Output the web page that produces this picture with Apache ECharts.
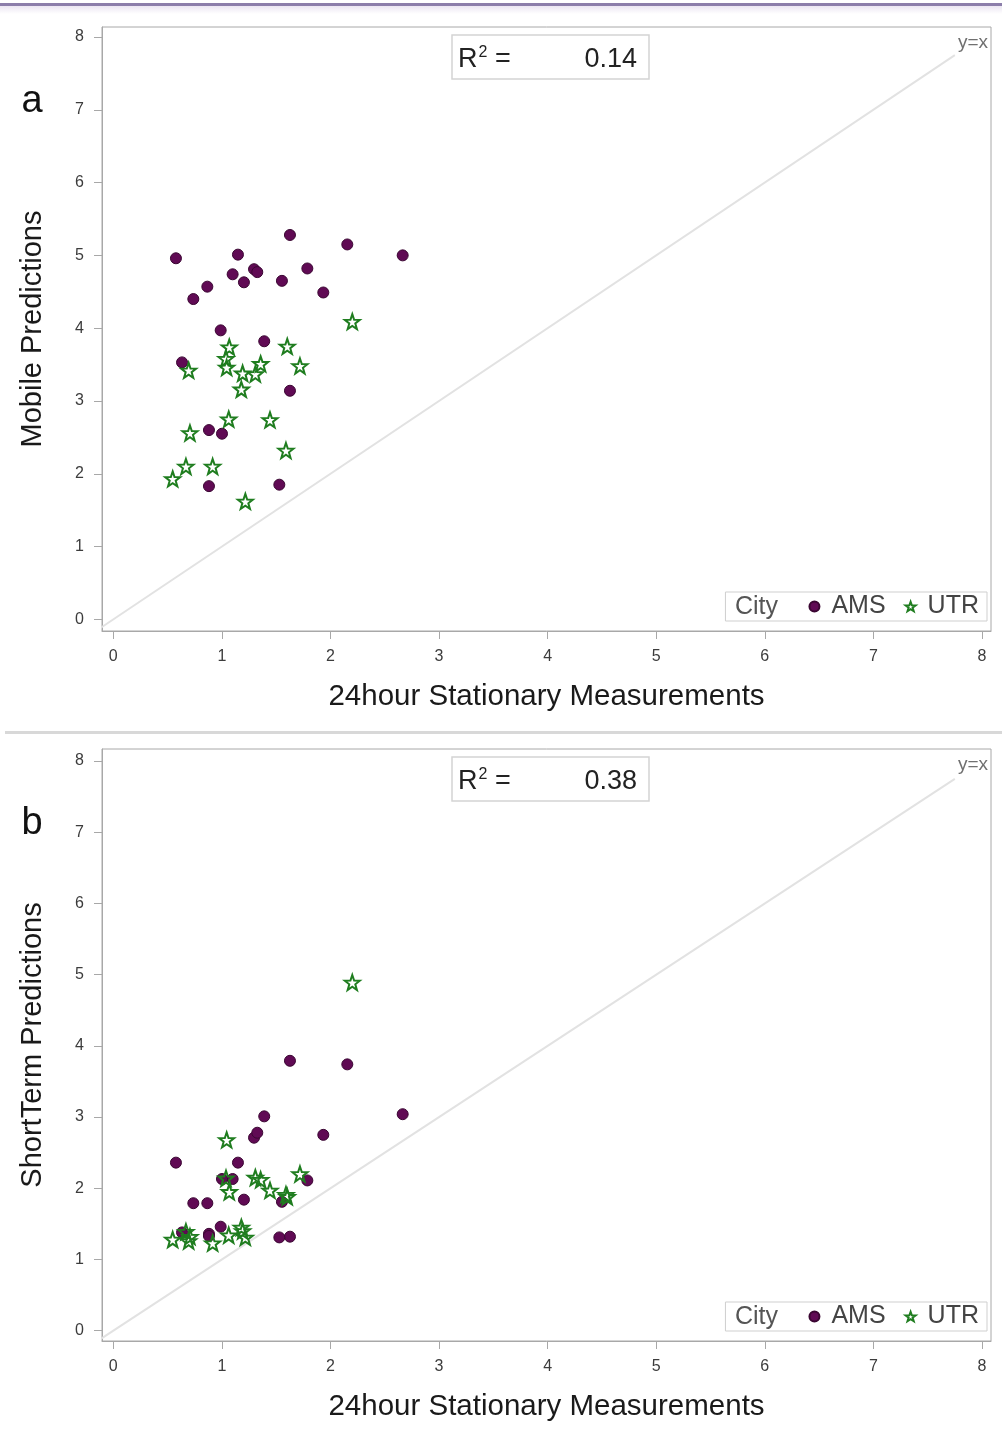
<!DOCTYPE html>
<html><head><meta charset="utf-8">
<script src="https://cdn.jsdelivr.net/npm/echarts@6/dist/echarts.min.js"></script>
<style>html,body{margin:0;padding:0;background:#fff}#c{width:1002px;height:1434px}</style>
</head><body><div id="c"></div>
<script>
// 24hour stationary measurements (x), mobile predictions (panel a), short-term predictions (panel b)
var amsStationary = [1.627,2.155,2.665,0.577,1.148,1.296,1.326,1.099,1.203,1.553,1.787,1.934,0.866,0.737,0.989,1.39,0.633,1.627,0.881,1.001,0.881,1.529];
var amsMobile     = [5.28,5.15,5.00,4.96,5.01,4.81,4.77,4.74,4.63,4.65,4.82,4.49,4.57,4.40,3.97,3.82,3.53,3.14,2.60,2.55,1.83,1.85];
var amsShortTerm  = [3.79,3.74,3.04,2.36,2.36,2.71,2.78,2.13,1.84,1.81,2.11,2.75,1.79,1.79,1.46,3.01,1.38,1.32,1.36,2.13,1.33,1.31];
var utrStationary = [2.201,1.068,1.602,1.038,1.044,0.694,1.357,1.191,1.308,1.719,1.179,1.063,1.443,0.706,1.590,0.669,0.915,0.547,1.216];
var utrMobile     = [4.09,3.74,3.75,3.58,3.46,3.42,3.51,3.38,3.37,3.48,3.16,2.75,2.74,2.56,2.32,2.10,2.10,1.93,1.62];
var utrShortTerm  = [4.89,1.95,1.88,2.14,2.68,1.26,2.12,1.40,2.15,2.20,1.45,1.34,1.97,1.32,1.91,1.39,1.23,1.28,1.31];
var tickValues = [0,1,2,3,4,5,6,7,8];
var r2Values = ['0.14','0.38'];
var panelLetters = ['a','b'];
var yNames = ['Mobile Predictions','ShortTerm Predictions'];
var xName = '24hour Stationary Measurements';

function pairs(xs, ys){ return xs.map(function(x,i){ return [x, ys[i]]; }); }

var STAR = 'path://M0,-10L2.35,-3.24L9.51,-3.09L3.8,1.24L5.88,8.09L0,4.2L-5.88,8.09L-3.8,1.24L-9.51,-3.09L-2.35,-3.24Z';
var FONT = '"Liberation Sans", Arial, sans-serif';

var grids = [
  {left:102, top:27, width:889, height:604},
  {left:102, top:749, width:889, height:592}
];
var yRanges = [[-0.16, 8.137], [-0.145, 8.169]];

var xAxes = [], yAxes = [], series = [], legends = [], graphics = [];
[0,1].forEach(function(p){
  xAxes.push({
    gridIndex:p, type:'value', min:-0.104, max:8.083,
    name:xName, nameLocation:'middle', nameGap:51,
    nameTextStyle:{fontFamily:FONT, fontSize:29.5, color:'#1a1a1a'},
    axisLine:{show:true, onZero:false, lineStyle:{color:'#a8a8a8', width:1}},
    axisTick:{show:true, length:8, customValues:tickValues, lineStyle:{color:'#a8a8a8'}},
    axisLabel:{customValues:tickValues, fontFamily:FONT, fontSize:16, color:'#3c3c3c', margin:18},
    splitLine:{show:false}
  });
  yAxes.push({
    gridIndex:p, type:'value', min:yRanges[p][0], max:yRanges[p][1],
    name:yNames[p], nameLocation:'middle', nameGap:55,
    nameTextStyle:{fontFamily:FONT, fontSize:29, color:'#1a1a1a'},
    axisLine:{show:true, onZero:false, lineStyle:{color:'#a8a8a8', width:1}},
    axisTick:{show:true, length:8, customValues:tickValues, lineStyle:{color:'#a8a8a8'}},
    axisLabel:{customValues:tickValues, fontFamily:FONT, fontSize:16, color:'#3c3c3c', margin:18},
    splitLine:{show:false}
  });
  series.push({
    type:'line', xAxisIndex:p, yAxisIndex:p, data:[[-0.2,-0.2],[7.75,7.75]],
    symbol:'none', silent:true, lineStyle:{color:'#e2e2e2', width:2}, z:1
  });
  series.push({
    name:'AMS', type:'scatter', xAxisIndex:p, yAxisIndex:p,
    data:pairs(amsStationary, p===0 ? amsMobile : amsShortTerm),
    symbol:'circle', symbolSize:11,
    itemStyle:{color:'#600a54', borderColor:'#3a0632', borderWidth:1, opacity:1}, z:3
  });
  series.push({
    name:'UTR', type:'scatter', xAxisIndex:p, yAxisIndex:p,
    data:pairs(utrStationary, p===0 ? utrMobile : utrShortTerm),
    symbol:STAR, symbolSize:15,
    itemStyle:{color:'rgba(255,255,255,0)', borderColor:'#1f7d1f', borderWidth:2, opacity:1}, z:4
  });
  var gTop = grids[p].top;
  var legTop = p===0 ? 592 : 1302;
  legends.push({
    data:[{name:'AMS', icon:'circle', itemStyle:{color:'#600a54', borderColor:'#3a0632'}},
          {name:'UTR', icon:STAR, itemStyle:{color:'#ffffff', borderColor:'#1f7d1f', borderWidth:2}}],
    right:15, top:legTop, orient:'horizontal',
    padding:[2,8,2,83], itemGap:19, itemWidth:10, itemHeight:10,
    borderColor:'#cfcfcf', borderWidth:1, backgroundColor:'#fff',
    textStyle:{fontFamily:FONT, fontSize:25, color:'#444', padding:[2,0,0,7]},
    selectedMode:false
  });
  graphics.push({type:'text', left:735, top:legTop+3, z:100,
    style:{text:'City', font:'25px '+FONT, fill:'#555'}});
  // R^2 box
  graphics.push({type:'rect', shape:{x:452, y:gTop+8, width:197, height:44},
    style:{fill:'#fff', stroke:'#d4d4d4', lineWidth:1.5}, z:50});
  graphics.push({type:'text', x:458, y:gTop+33, z:51,
    style:{text:'{r|R}{s|2}{r| =}', verticalAlign:'middle',
      rich:{r:{font:'27px '+FONT, fill:'#222'}, s:{font:'16px '+FONT, fill:'#222', verticalAlign:'top', padding:[0,0,14,1]}}}});
  graphics.push({type:'text', x:637, y:gTop+33, z:51,
    style:{text:r2Values[p], font:'27px '+FONT, fill:'#222', align:'right', verticalAlign:'middle'}});
  // y=x label
  graphics.push({type:'text', x:988, y:gTop+16, z:51,
    style:{text:'y=x', font:'19px '+FONT, fill:'#707070', align:'right', verticalAlign:'middle'}});
  // panel letter
  graphics.push({type:'text', x:32, y:gTop+75, z:51,
    style:{text:panelLetters[p], font:'38px '+FONT, fill:'#111', align:'center', verticalAlign:'middle'}});
});

// top strip and separator
graphics.push({type:'rect', shape:{x:0, y:3, width:1002, height:3}, style:{fill:'#8c7eaa'}, z:60});
graphics.push({type:'rect', shape:{x:0, y:6, width:1002, height:8},
  style:{fill:{type:'linear', x:0, y:0, x2:0, y2:1, colorStops:[{offset:0,color:'#ebe6f2'},{offset:1,color:'#ffffff'}]}}, z:60});
graphics.push({type:'rect', shape:{x:5, y:731, width:997, height:3}, style:{fill:'#d8d8d8'}, z:60});

var chart = echarts.init(document.getElementById('c'), null, {renderer:'canvas'});
chart.setOption({
  backgroundColor:'#ffffff',
  animation:false,
  grid: grids.map(function(g){ return Object.assign({show:true, borderColor:'#a8a8a8', borderWidth:1, backgroundColor:'#fff'}, g); }),
  xAxis:xAxes, yAxis:yAxes, series:series, legend:legends, graphic:graphics
});
</script></body></html>
